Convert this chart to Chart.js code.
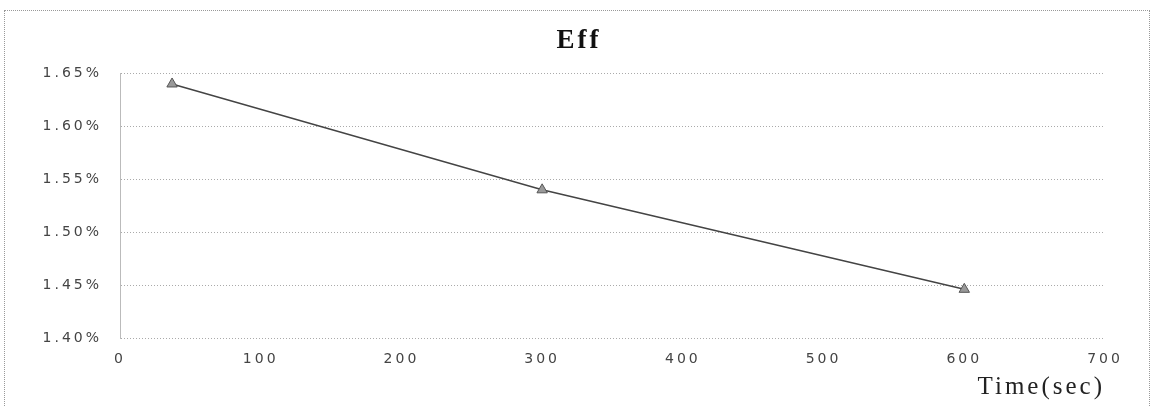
<!DOCTYPE html>
<html>
<head>
<meta charset="utf-8">
<script src="https://cdn.jsdelivr.net/npm/chart.js@4/dist/chart.umd.min.js"></script>
<style>
  body { margin: 0; background: #fff; }
  #wrap { position: relative; width: 1158px; height: 406px; }
  #frame { position: absolute; left: 4px; top: 10px; width: 1146px; height: 400px;
           border: 1px dotted #999; border-bottom: none; box-sizing: border-box; }
  canvas { position: absolute; left: 0; top: 0; }
</style>
</head>
<body>
<div id="wrap">
  <div id="frame"></div>
  <canvas id="eff" width="1158" height="406"></canvas>
</div>
<script>
// time in seconds, efficiency in percent
const timeSec = [37, 300, 600];
const effPct = [1.64, 1.54, 1.446];

const xTicks = [0, 100, 200, 300, 400, 500, 600, 700];
const yTicks = [1.40, 1.45, 1.50, 1.55, 1.60, 1.65];

const points = timeSec.map(function(t, i) { return {x: t, y: effPct[i]}; });

const tickFont = {family: 'DejaVu Sans', size: 14};

// the old picture has every glyph stretched wide, so space letters out a bit
const wideText = {
    id: 'wideText',
    beforeLayout: function(chart) { chart.ctx.letterSpacing = '3px'; },
    beforeDraw: function(chart) { chart.ctx.letterSpacing = '3px'; }
};

const ctx = document.getElementById('eff');
const chart = new Chart(ctx, {
    type: 'scatter',
    data: {
        datasets: [{
            label: 'Eff',
            data: points,
            showLine: true,
            borderColor: '#444',
            borderWidth: 1.5,
            pointStyle: 'triangle',
            pointRadius: 6,
            pointBackgroundColor: '#999',
            pointBorderColor: '#555',
            pointBorderWidth: 1
        }]
    },
    plugins: [wideText],
    options: {
        responsive: false,
        animation: false,
        layout: {padding: 0},
        plugins: {
            legend: {display: false},
            tooltip: {enabled: false},
            title: {
                display: true,
                text: 'Eff',
                color: '#111',
                font: {family: 'Liberation Serif', size: 27, weight: 'bold'},
                padding: {top: 25, bottom: 16}
            }
        },
        scales: {
            x: {
                type: 'linear',
                min: 0,
                max: 700,
                afterBuildTicks: function(scale) {
                    scale.ticks = xTicks.map(function(v) { return {value: v}; });
                },
                afterFit: function(scale) { scale.height = 68; },
                grid: {display: false},
                border: {display: false},
                ticks: {color: '#444', font: tickFont, padding: 5, maxRotation: 0},
                title: {
                    display: true,
                    text: 'Time(sec)',
                    align: 'end',
                    color: '#222',
                    font: {family: 'Liberation Serif', size: 25},
                    padding: {top: 2}
                }
            },
            y: {
                min: 1.40,
                max: 1.65,
                afterBuildTicks: function(scale) {
                    scale.ticks = yTicks.map(function(v) { return {value: v}; });
                },
                afterFit: function(scale) { scale.width = 120; },
                grid: {color: '#aaa', drawTicks: false},
                border: {display: true, color: '#bbb', dash: [1, 2]},
                ticks: {
                    color: '#444',
                    font: tickFont,
                    padding: 18,
                    callback: function(v) { return v.toFixed(2) + '%'; }
                }
            },
            // empty strip on the right, keeps the plot clear of the frame
            yRight: {
                position: 'right',
                display: true,
                afterFit: function(scale) { scale.width = 53; },
                grid: {display: false},
                border: {display: false},
                ticks: {display: false}
            }
        }
    }
});
</script>
</body>
</html>
